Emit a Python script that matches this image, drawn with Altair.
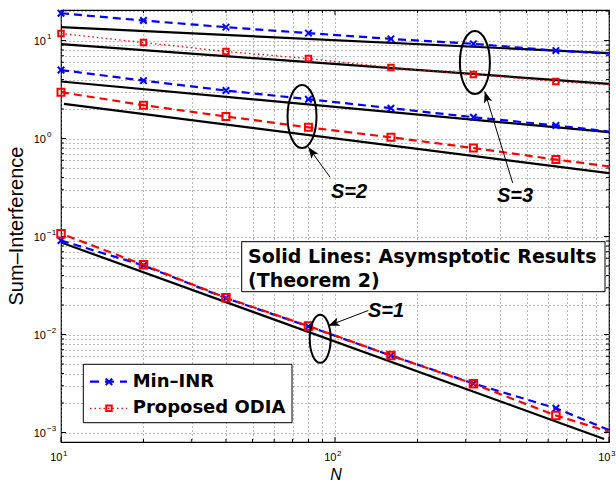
import altair as alt
import pandas as pd

# ---------------- data ----------------
N_marks = [10, 20, 40, 80, 160, 320, 640]
N_edge = [1000]

minr_s3 = [19.0, 16.0, 13.7, 11.9, 10.4, 9.25, 7.9]
minr_s3_end = [7.35]
minr_s2 = [5.0, 3.9, 3.09, 2.52, 2.04, 1.65, 1.36]
minr_s2_end = [1.18]
minr_s1 = [0.091, 0.0507, 0.0235, 0.0121, 0.0061, 0.00316, 0.00177]
minr_s1_end = [0.00106]

odia_s3 = [11.8, 9.54, 7.73, 6.55, 5.30, 4.5, 3.82]
odia_s3_end = [3.53]
odia_s2 = [2.97, 2.19, 1.68, 1.30, 1.03, 0.80, 0.61]
odia_s2_end = [0.52]
odia_s1 = [0.107, 0.0514, 0.0237, 0.0122, 0.0061, 0.00314, 0.00149]
odia_s1_end = [0.00102]

asym_s3_minr_N = [10, 1000]
asym_s3_minr = [13.7, 7.43]
asym_s3_odia_N = [10, 1000]
asym_s3_odia = [9.19, 3.61]
asym_s2_minr_N = [10, 1000]
asym_s2_minr = [3.82, 1.16]
asym_s2_odia_N = [10.25, 1000]
asym_s2_odia = [2.26, 0.443]
asym_s1_N = [10, 960]
asym_s1 = [0.087, 0.00086]

group_labels = ["S=3", "S=2", "S=1"]
label_N = [454, 112.5, 153.5]
label_v = [0.26, 0.288, 0.0172]
ellipse_N = [324, 75.8, 88.3]
ellipse_v = [5.97, 1.676, 0.00904]
arrow_tail_N = [445, 95.9, 132.3]
arrow_tail_v = [0.353, 0.404, 0.0176]
arrow_tip_N = [352, 79.9, 94.5]
arrow_tip_v = [3.02, 0.817, 0.01227]

x_major = [10, 100, 1000]
x_exp = ["1", "2", "3"]
y_major = [0.001, 0.01, 0.1, 1, 10]
y_exp = ["\u22123", "\u22122", "\u22121", "0", "1"]
x_grid = [10, 20, 30, 40, 50, 60, 70, 80, 90, 100, 200, 300, 400, 500, 600, 700, 800, 900, 1000]
y_grid = [0.001, 0.002, 0.003, 0.004, 0.005, 0.006, 0.007, 0.008, 0.009,
          0.01, 0.02, 0.03, 0.04, 0.05, 0.06, 0.07, 0.08, 0.09,
          0.1, 0.2, 0.3, 0.4, 0.5, 0.6, 0.7, 0.8, 0.9,
          1, 2, 3, 4, 5, 6, 7, 8, 9, 10, 20]

legend_labels = ["Min\u2013INR", "Proposed ODIA"]
box_lines = ["Solid Lines: Asymsptotic Results", "(Theorem 2)"]
x_title = "N"
y_title = "Sum\u2013Interference"

# ---------------- helpers ----------------
W, H = 548, 432
xscale = alt.Scale(type="log", domain=[10, 1000], nice=False)
yscale = alt.Scale(type="log", domain=[8e-4, 20.5], nice=False)
xaxis = alt.Axis(values=x_grid, grid=True, gridDash=[1, 3], gridColor="#777777",
                 gridWidth=1, labels=False, ticks=False, domain=False, title=None)
yaxis = alt.Axis(values=y_grid, grid=True, gridDash=[1, 3], gridColor="#777777",
                 gridWidth=1, labels=False, ticks=False, domain=False, title=None)


def X(field="N"):
    return alt.X(f"{field}:Q", scale=xscale, axis=xaxis)


def Y(field="v"):
    return alt.Y(f"{field}:Q", scale=yscale, axis=yaxis)


def line_df(vals, end):
    return pd.DataFrame({"N": N_marks + N_edge, "v": vals + end})


def mark_df(vals):
    return pd.DataFrame({"N": N_marks, "v": vals})


def line(df, color, dash=None, width=2.0, offset=0):
    kw = dict(color=color, strokeWidth=width, clip=True)
    if dash:
        kw["strokeDash"] = dash
        kw["strokeDashOffset"] = offset
    return alt.Chart(df).mark_line(**kw).encode(x=X(), y=Y())


BLUE = "#0000ff"
RED = "#ff0000"
XPATH = "M-1,-1L1,1M-1,1L1,-1"

layers = []

# ticks (inward, all four sides)
xmin_df = pd.DataFrame({"N": [v for v in x_grid if v not in x_major]})
xmaj_df = pd.DataFrame({"N": x_major})
ymin_df = pd.DataFrame({"v": [v for v in y_grid if v not in y_major]})
ymaj_df = pd.DataFrame({"v": y_major})
for df, L in [(xmin_df, 3), (xmaj_df, 5)]:
    layers.append(alt.Chart(df).mark_rule(color="black", strokeWidth=1).encode(
        x=X(), y=alt.value(H), y2=alt.value(H - L)))
    layers.append(alt.Chart(df).mark_rule(color="black", strokeWidth=1).encode(
        x=X(), y=alt.value(0), y2=alt.value(L)))
for df, L in [(ymin_df, 3), (ymaj_df, 5)]:
    layers.append(alt.Chart(df).mark_rule(color="black", strokeWidth=1).encode(
        y=Y(), x=alt.value(0), x2=alt.value(L)))
    layers.append(alt.Chart(df).mark_rule(color="black", strokeWidth=1).encode(
        y=Y(), x=alt.value(W), x2=alt.value(W - L)))

# asymptotic black lines
for n, v in [(asym_s3_minr_N, asym_s3_minr), (asym_s3_odia_N, asym_s3_odia),
             (asym_s2_minr_N, asym_s2_minr), (asym_s2_odia_N, asym_s2_odia),
             (asym_s1_N, asym_s1)]:
    layers.append(line(pd.DataFrame({"N": n, "v": v}), "black", None, 2.2))

DASH = [8, 5]
# Min-INR (blue)
for vals, end in [(minr_s3, minr_s3_end), (minr_s2, minr_s2_end), (minr_s1, minr_s1_end)]:
    layers.append(line(line_df(vals, end), BLUE, DASH, 2.2))
    layers.append(alt.Chart(mark_df(vals)).mark_point(
        shape=XPATH, filled=False, color=BLUE, strokeWidth=2, size=42, opacity=1).encode(x=X(), y=Y()))

# Proposed ODIA (red)
layers.append(line(line_df(odia_s3, odia_s3_end), RED, [1.5, 3], 1.3))
layers.append(alt.Chart(mark_df(odia_s3)).mark_point(
    shape="square", filled=False, color=RED, strokeWidth=2, size=30, opacity=1).encode(x=X(), y=Y()))
layers.append(line(line_df(odia_s2, odia_s2_end), RED, DASH, 2.2))
layers.append(alt.Chart(mark_df(odia_s2)).mark_point(
    shape="square", filled=False, color=RED, strokeWidth=2, size=49, opacity=1).encode(x=X(), y=Y()))
layers.append(line(line_df(odia_s1, odia_s1_end), RED, DASH, 2.2, offset=6.5))
layers.append(alt.Chart(mark_df(odia_s1)).mark_point(
    shape="square", filled=False, color=RED, strokeWidth=2, size=56, opacity=1).encode(x=X(), y=Y()))

# ellipses, arrows, group labels
ell_shapes = [
    ("M-0.476,0A0.476,1 0 1,0 0.476,0A0.476,1 0 1,0 -0.476,0Z", 3969),
    ("M-0.46,0A0.46,1 0 1,0 0.46,0A0.46,1 0 1,0 -0.46,0Z", 3969),
    ("M-0.4375,0A0.4375,1 0 1,0 0.4375,0A0.4375,1 0 1,0 -0.4375,0Z", 2304),
]
arrow_angles = [343, 324, 249]
ARROW = "M0,0L-0.38,1L0,0.78L0.38,1Z"
for i in range(3):
    path, sz = ell_shapes[i]
    layers.append(alt.Chart(pd.DataFrame({"N": [ellipse_N[i]], "v": [ellipse_v[i]]})).mark_point(
        shape=path, size=sz, filled=False, color="black", strokeWidth=2, opacity=1).encode(x=X(), y=Y()))
    adf = pd.DataFrame({"N": [arrow_tail_N[i]], "v": [arrow_tail_v[i]],
                        "N2": [arrow_tip_N[i]], "v2": [arrow_tip_v[i]]})
    layers.append(alt.Chart(adf).mark_rule(color="black", strokeWidth=1).encode(
        x=X(), y=Y(), x2="N2:Q", y2="v2:Q"))
    layers.append(alt.Chart(pd.DataFrame({"N": [arrow_tip_N[i]], "v": [arrow_tip_v[i]]})).mark_point(
        shape=ARROW, size=500, filled=True, color="black", angle=arrow_angles[i], opacity=1,
        strokeWidth=0).encode(x=X(), y=Y()))
    layers.append(alt.Chart(pd.DataFrame({"N": [label_N[i]], "v": [label_v[i]], "t": [group_labels[i]]})).mark_text(
        font="Liberation Sans", fontSize=20, fontWeight="bold", fontStyle="italic",
        align="center", baseline="middle", color="black").encode(x=X(), y=Y(), text="t:N"))

# text box
one = pd.DataFrame({"a": [0]})
layers.append(alt.Chart(one).mark_rect(fill="white", stroke="black", strokeWidth=1).encode(
    x=alt.value(180.7), x2=alt.value(544), y=alt.value(231.7), y2=alt.value(281.7)))
for txt, yy in zip(box_lines, [246.5, 271]):
    layers.append(alt.Chart(pd.DataFrame({"t": [txt]})).mark_text(
        font="DejaVu Sans", fontSize=19, fontWeight="bold", align="left", baseline="middle",
        color="black").encode(x=alt.value(187), y=alt.value(yy), text="t:N"))

# legend
layers.append(alt.Chart(one).mark_rect(fill="white", stroke="black", strokeWidth=1).encode(
    x=alt.value(22.3), x2=alt.value(231), y=alt.value(354.3), y2=alt.value(412.7)))
layers.append(alt.Chart(one).mark_rule(color=BLUE, strokeWidth=2.2, strokeDash=[9, 6]).encode(
    x=alt.value(29), x2=alt.value(66), y=alt.value(371.7)))
layers.append(alt.Chart(one).mark_point(shape=XPATH, filled=False, color=BLUE, strokeWidth=2,
                                        size=42, opacity=1).encode(x=alt.value(48), y=alt.value(371.7)))
layers.append(alt.Chart(one).mark_rule(color=RED, strokeWidth=1.3, strokeDash=[1.5, 3]).encode(
    x=alt.value(29), x2=alt.value(66), y=alt.value(398.3)))
layers.append(alt.Chart(one).mark_point(shape="square", filled=False, color=RED, strokeWidth=2,
                                        size=30, opacity=1).encode(x=alt.value(48), y=alt.value(398.3)))
for txt, yy in zip(legend_labels, [371.7, 398.3]):
    layers.append(alt.Chart(pd.DataFrame({"t": [txt]})).mark_text(
        font="DejaVu Sans", fontSize=18, fontWeight="bold", align="left", baseline="middle",
        color="black").encode(x=alt.value(71.7), y=alt.value(yy), text="t:N"))

# tick labels
xl = pd.DataFrame({"N": x_major, "e": x_exp})
layers.append(alt.Chart(xl).mark_text(font="Liberation Sans", fontSize=11, align="right",
                                      baseline="alphabetic", dx=1.5, color="black").encode(
    x=X(), y=alt.value(H + 18.5), text=alt.value("10")))
layers.append(alt.Chart(xl).mark_text(font="Liberation Sans", fontSize=8, align="left",
                                      baseline="alphabetic", dx=2, color="black").encode(
    x=X(), y=alt.value(H + 14), text="e:N"))
yl = pd.DataFrame({"v": y_major, "e": y_exp})
layers.append(alt.Chart(yl).mark_text(font="Liberation Sans", fontSize=11, align="right",
                                      baseline="alphabetic", dy=4, color="black").encode(
    y=Y(), x=alt.value(-15), text=alt.value("10")))
layers.append(alt.Chart(yl).mark_text(font="Liberation Sans", fontSize=8, align="left",
                                      baseline="alphabetic", dy=-1.5, color="black").encode(
    y=Y(), x=alt.value(-14), text="e:N"))

# axis titles
layers.append(alt.Chart(pd.DataFrame({"t": [x_title]})).mark_text(
    font="Liberation Sans", fontSize=16, fontStyle="italic", align="center", baseline="bottom",
    color="black").encode(x=alt.value(275), y=alt.value(H + 40.5), text="t:N"))
layers.append(alt.Chart(pd.DataFrame({"t": [y_title]})).mark_text(
    font="Liberation Sans", fontSize=20, angle=270, align="center", baseline="middle",
    color="black").encode(x=alt.value(-44), y=alt.value(H / 2), text="t:N"))

chart = alt.layer(*layers).properties(
    width=W, height=H,
    autosize=alt.AutoSizeParams(type="none"),
    padding={"left": 61, "top": 10, "right": 7, "bottom": 41},
    background="white",
).configure_view(stroke="black", strokeWidth=1.2)

chart.save("out.html", embed_options={"renderer": "svg", "actions": False})
